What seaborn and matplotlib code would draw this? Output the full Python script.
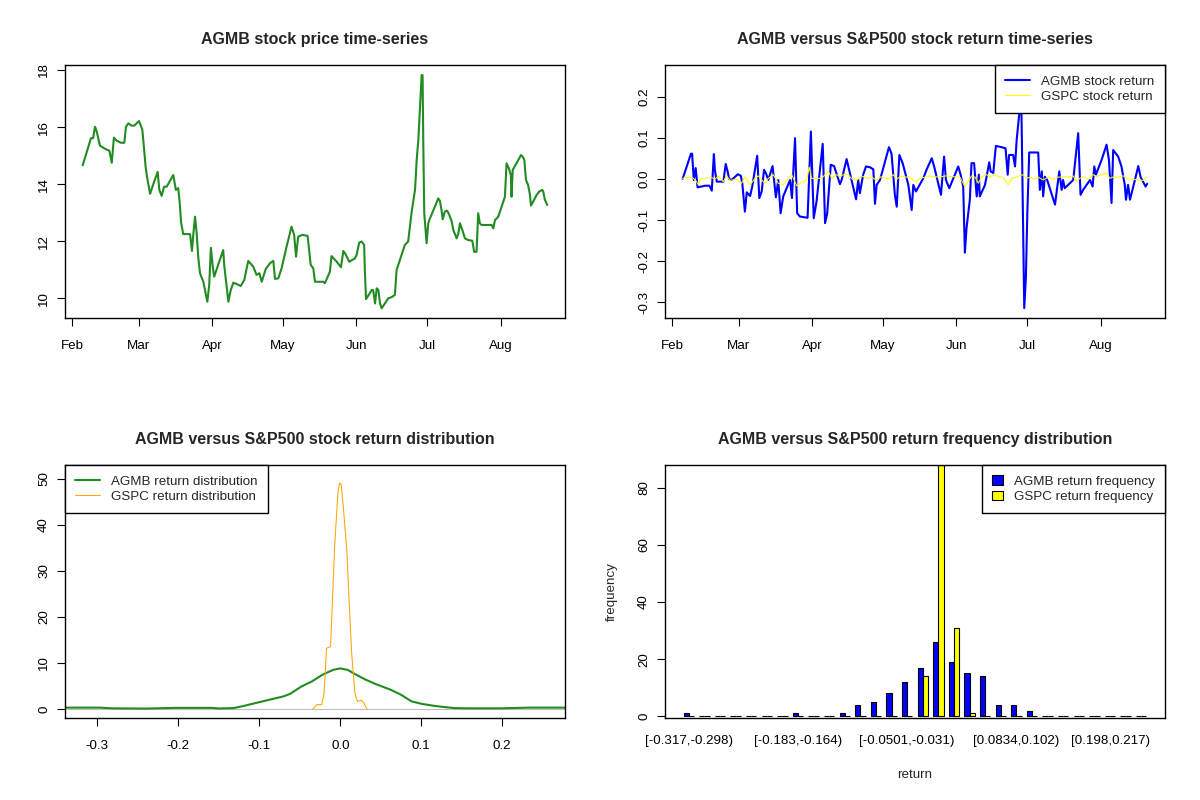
import pandas as pd
import matplotlib
matplotlib.use('Agg')
import matplotlib.pyplot as plt
import matplotlib.dates as mdates
import seaborn as sns

# AGMB closing price, (days since 2021-02-01, price)
price_pts = [
    (4.3, 14.66), (7.8, 15.61), (8.7, 15.61), (9.5, 16.01), (10.2, 15.86), (11.6, 15.35), (13.7, 15.24), (15.6, 15.17), (16.6, 14.75), (17.5, 15.63),
    (18.7, 15.52), (20.5, 15.45), (21.9, 15.45), (22.6, 16.01), (23.6, 16.13), (25.0, 16.05), (26.1, 16.05), (28.1, 16.21), (29.5, 15.92), (30.2, 15.29),
    (30.9, 14.61), (31.6, 14.21), (32.8, 13.66), (34.2, 14.01), (36.0, 14.43), (36.7, 13.80), (37.7, 13.59), (38.7, 13.91), (39.8, 13.91), (42.6, 14.32),
    (43.7, 13.80), (44.7, 13.86), (45.4, 13.27), (45.9, 12.66), (46.8, 12.25), (49.7, 12.25), (50.5, 11.66), (51.1, 12.27), (51.8, 12.86), (52.5, 12.27),
    (53.2, 11.40), (53.9, 10.88), (55.3, 10.58), (57.0, 9.88), (57.8, 10.47), (58.5, 11.77), (59.3, 11.11), (59.9, 10.76), (63.7, 11.69), (64.2, 11.11),
    (65.9, 9.88), (66.9, 10.29), (68.0, 10.55), (69.4, 10.50), (71.1, 10.43), (72.6, 10.64), (74.3, 11.31), (76.4, 11.11), (77.8, 10.82), (79.0, 10.88),
    (80.0, 10.58), (81.7, 11.03), (83.5, 11.23), (84.9, 11.31), (85.6, 10.68), (87.0, 10.70), (88.4, 11.05), (90.5, 11.81), (92.6, 12.51), (93.7, 12.22),
    (94.5, 11.46), (95.4, 12.16), (97.1, 12.22), (99.4, 12.19), (100.7, 11.17), (101.8, 11.05), (102.5, 10.58), (106.0, 10.58), (106.7, 10.53), (108.8, 10.93),
    (109.5, 11.48), (111.7, 11.28), (113.5, 11.09), (114.5, 11.66), (115.6, 11.52), (117.0, 11.28), (119.4, 11.40), (120.1, 11.52), (121.2, 11.95), (122.2, 11.99),
    (123.3, 11.87), (123.6, 10.93), (124.1, 9.97), (126.5, 10.29), (127.1, 10.29), (127.9, 9.82), (128.6, 10.35), (129.3, 10.29), (130.0, 9.82), (130.7, 9.65),
    (133.5, 10.00), (134.9, 10.04), (136.3, 10.12), (137.0, 10.99), (138.4, 11.34), (140.5, 11.87), (141.9, 11.99), (143.4, 13.04), (144.8, 13.80), (145.5, 14.85),
    (146.2, 15.55), (146.9, 16.71), (147.3, 17.30), (147.6, 17.82), (148.0, 17.82), (148.3, 15.37), (148.7, 12.98), (149.7, 11.93), (150.4, 12.63), (151.1, 12.80),
    (153.2, 13.21), (154.6, 13.50), (155.3, 13.42), (156.0, 13.09), (156.5, 12.77), (157.4, 13.04), (158.4, 13.07), (159.3, 12.92), (160.3, 12.69), (161.0, 12.39),
    (162.4, 12.10), (163.1, 12.27), (163.8, 12.63), (164.9, 12.37), (165.9, 12.10), (167.3, 12.04), (169.0, 12.02), (169.8, 11.63), (170.8, 11.63), (171.5, 12.98),
    (172.2, 12.63), (172.9, 12.57), (177.2, 12.57), (177.9, 12.45), (178.6, 12.74), (180.0, 12.86), (181.4, 13.21), (182.8, 13.56), (183.5, 14.73), (184.5, 14.55),
    (185.3, 14.32), (185.6, 13.56), (186.1, 14.50), (187.7, 14.73), (189.6, 15.02), (190.3, 14.96), (191.0, 14.85), (191.7, 14.15), (192.6, 13.97), (193.4, 13.62),
    (193.8, 13.25), (194.5, 13.35), (196.2, 13.62), (197.3, 13.74), (198.6, 13.80), (199.0, 13.74), (199.7, 13.45), (200.7, 13.27),
]

# daily returns, (days since 2021-02-01, return)
agmb_ret_pts = [
    (4.3, 0.001), (7.8, 0.062), (8.3, 0.062), (9.0, -0.002), (9.8, 0.027), (10.6, -0.020), (13.7, -0.016), (15.6, -0.016), (16.6, -0.028), (17.5, 0.061),
    (17.9, 0.023), (18.7, -0.006), (21.5, -0.006), (22.5, 0.037), (23.3, 0.019), (23.9, 0.001), (25.0, -0.002), (27.6, 0.012), (28.9, 0.008), (29.5, -0.010),
    (30.6, -0.079), (31.4, -0.032), (32.8, -0.041), (33.7, -0.018), (35.8, 0.057), (36.7, -0.046), (37.7, -0.030), (38.7, 0.023), (39.6, 0.013), (40.5, -0.002),
    (42.3, 0.032), (43.7, -0.044), (44.7, -0.002), (45.7, -0.083), (46.8, -0.042), (49.7, -0.002), (50.5, -0.046), (51.8, 0.100), (52.7, -0.083), (53.9, -0.091),
    (57.1, -0.094), (57.7, -0.002), (58.5, 0.116), (59.7, -0.095), (60.9, -0.054), (63.5, 0.086), (64.5, -0.107), (65.4, -0.083), (66.9, 0.035), (68.3, 0.032),
    (70.8, -0.012), (71.5, -0.002), (73.6, 0.049), (74.3, 0.032), (77.6, -0.049), (78.5, -0.002), (79.2, -0.034), (80.6, 0.011), (81.8, 0.031), (83.5, 0.029),
    (84.9, 0.024), (85.6, -0.060), (86.3, -0.014), (87.7, -0.002), (89.1, 0.027), (91.5, 0.078), (92.6, 0.062), (94.0, -0.038), (94.8, -0.067), (95.9, 0.059),
    (97.3, 0.039), (99.7, -0.014), (101.1, -0.075), (101.8, -0.014), (102.9, -0.030), (106.0, 0.002), (107.4, 0.023), (109.6, 0.051), (110.6, 0.031),
    (113.5, -0.038), (114.8, 0.055), (115.6, -0.002), (117.0, -0.022), (120.8, 0.031), (121.8, 0.011), (122.9, -0.018), (123.6, -0.179), (124.3, -0.119), (125.7, -0.050),
    (126.4, 0.039), (127.5, 0.039), (128.6, -0.042), (129.5, 0.011), (129.9, -0.042), (132.1, -0.014), (133.9, 0.041), (134.5, 0.019), (135.6, 0.015), (136.7, 0.081),
    (139.1, 0.078), (140.8, 0.075), (141.7, 0.011), (142.3, 0.059), (144.0, 0.059), (144.8, 0.031), (145.5, 0.096), (146.2, 0.136), (146.9, 0.177), (147.3, 0.255),
    (148.7, -0.314), (149.4, -0.237), (150.0, -0.083), (150.8, 0.065), (154.6, 0.065), (155.3, -0.026), (156.1, 0.019), (156.7, -0.042), (157.4, 0.006), (158.4, -0.002),
    (161.7, -0.062), (163.5, 0.019), (164.5, -0.026), (165.1, -0.002), (165.8, -0.022), (169.4, -0.002), (171.5, 0.112), (172.5, -0.038), (173.6, -0.026), (176.5, -0.002),
    (177.6, -0.018), (178.3, 0.031), (179.0, 0.011), (181.4, 0.047), (183.5, 0.084), (184.5, 0.047), (185.6, -0.058), (186.3, 0.071), (188.4, 0.055), (189.8, 0.031),
    (191.2, -0.014), (191.7, -0.050), (192.6, -0.014), (193.4, -0.050), (194.1, -0.034), (195.1, -0.011), (196.9, 0.032), (197.9, 0.005), (200.0, -0.018), (200.7, -0.011),
]

gspc_ret_pts = [
    (4.3, 0.001), (5.3, 0.005), (7.4, 0.005), (8.8, 0.002), (10.2, -0.006), (10.9, -0.014), (11.9, 0.001), (16.6, 0.004), (17.9, 0.000), (19.4, 0.008),
    (21.5, -0.006), (22.9, 0.008), (24.3, -0.003), (27.1, 0.000), (29.2, -0.010), (30.6, 0.006), (32.8, -0.014), (34.9, 0.002), (36.3, 0.008), (37.7, -0.002),
    (39.1, -0.010), (40.5, 0.002), (42.6, 0.011), (44.7, -0.010), (46.8, -0.014), (49.0, 0.002), (50.4, 0.011), (52.5, -0.016), (54.6, -0.008), (56.7, -0.002),
    (57.8, 0.029), (58.8, 0.002), (63.0, 0.002), (65.2, 0.015), (65.9, 0.019), (67.3, 0.002), (69.4, 0.011), (70.8, 0.006), (72.2, 0.011), (74.3, 0.011),
    (75.7, 0.001), (77.8, -0.003), (80.0, 0.008), (82.1, 0.002), (84.2, 0.005), (86.3, -0.003), (88.1, 0.006), (91.2, 0.000), (93.3, 0.011), (94.7, 0.000),
    (96.8, 0.008), (98.9, 0.005), (100.4, 0.006), (101.8, -0.003), (103.2, -0.006), (104.6, 0.002), (106.7, 0.005), (108.1, 0.008), (111.0, 0.006), (113.1, 0.005),
    (115.2, 0.008), (118.7, 0.006), (121.5, 0.005), (123.6, -0.018), (125.0, -0.006), (126.4, 0.008), (127.9, 0.005), (129.3, -0.010), (130.7, 0.006), (132.8, 0.011),
    (134.2, 0.005), (136.3, 0.011), (137.7, 0.006), (139.8, 0.005), (141.9, -0.014), (143.4, 0.002), (145.5, 0.005), (148.3, 0.011), (149.7, 0.002), (151.1, 0.005),
    (152.5, 0.000), (154.6, 0.005), (156.7, -0.002), (158.8, 0.005), (160.9, 0.000), (163.1, 0.005), (165.2, 0.006), (167.3, 0.005), (169.4, 0.008), (170.8, -0.006),
    (172.2, 0.002), (173.6, 0.006), (175.8, 0.000), (177.9, 0.011), (179.3, 0.006), (181.4, 0.011), (183.5, 0.015), (184.9, 0.002), (186.6, 0.006), (188.4, 0.005),
    (190.5, 0.008), (192.7, 0.000), (194.8, 0.000), (196.9, -0.002), (199.0, -0.003), (200.4, 0.005),
]

# return density curves, (return, density)
agmb_dens_pts = [
    (-0.345, 0.3), (-0.297, 0.3), (-0.282, 0.15), (-0.240, 0.1), (-0.203, 0.25), (-0.159, 0.25), (-0.150, 0.12), (-0.132, 0.2),
    (-0.121, 0.6), (-0.101, 1.45), (-0.088, 2.0), (-0.070, 2.75), (-0.062, 3.3), (-0.048, 4.9), (-0.035, 6.0), (-0.022, 7.45),
    (-0.009, 8.5), (0.0, 8.83), (0.009, 8.5), (0.018, 7.6), (0.031, 6.4), (0.044, 5.4), (0.062, 4.2), (0.075, 3.1),
    (0.088, 1.66), (0.101, 1.1), (0.115, 0.72), (0.128, 0.43), (0.141, 0.2), (0.159, 0.15), (0.198, 0.15), (0.233, 0.3), (0.285, 0.3),
]
gspc_dens_pts = [
    (-0.034, 0.0), (-0.029, 0.94), (-0.023, 0.94), (-0.020, 3.5), (-0.017, 13.2), (-0.012, 13.6), (-0.010, 22.3), (-0.007, 35.3),
    (-0.003, 46.9), (-0.001, 49.1), (0.001, 48.9), (0.004, 43.3), (0.008, 34.6), (0.011, 23.0), (0.014, 12.2), (0.018, 3.5),
    (0.021, 1.66), (0.026, 1.9), (0.029, 1.3), (0.033, 0.0),
]

# return frequency per bin (30 bins of width ~0.019)
agmb_counts = [1, 0, 0, 0, 0, 0, 0, 1, 0, 0, 1, 4, 5, 8, 12, 17, 26, 19, 15, 14, 4, 4, 2, 0, 0, 0, 0, 0, 0, 0]
gspc_counts = [0, 0, 0, 0, 0, 0, 0, 0, 0, 0, 0, 0, 0, 0, 0, 14, 88, 31, 1, 0, 0, 0, 0, 0, 0, 0, 0, 0, 0, 0]
bin_tick_pos = [0, 7, 14, 21, 27]
bin_tick_labels = ['[-0.317,-0.298)', '[-0.183,-0.164)', '[-0.0501,-0.031)', '[0.0834,0.102)', '[0.198,0.217)']

START = pd.Timestamp('2021-02-01')


def to_frame(pts, as_date=False):
    df = pd.DataFrame(pts, columns=['x', 'y'])
    if as_date:
        df['x'] = START + pd.to_timedelta(df['x'], unit='D')
    return df


sns.set_theme(style='white')
plt.rcParams['font.family'] = ['Liberation Sans', 'DejaVu Sans']

W, H = 1200, 800
fig = plt.figure(figsize=(12, 8), dpi=100)


def add_box(left, top):
    return fig.add_axes([left / W, 1 - (top + 253) / H, 500 / W, 253 / H])


ax1 = add_box(65, 65)
ax2 = add_box(665, 65)
ax3 = add_box(65, 465)
ax4 = add_box(665, 465)

TICK = 9.6


def r_style(ax, title):
    for s in ax.spines.values():
        s.set_visible(True)
        s.set_color('black')
        s.set_linewidth(1.0)
    ax.tick_params(axis='both', direction='out', length=5.8, width=0.8, colors='black',
                   labelsize=TICK, bottom=True, left=True, top=False, right=False)
    ax.tick_params(axis='x', pad=10)
    ax.tick_params(axis='y', pad=5, labelrotation=90)
    plt.setp(ax.get_yticklabels(), va='center')
    ax.set_xlabel('')
    ax.set_ylabel('')
    ax.grid(False)
    ax.set_title(title, fontsize=11.5, fontweight='bold', pad=15)


def r_legend(ax, loc, square=False):
    handles, labels = ax.get_legend_handles_labels()
    leg = ax.legend(handles, labels, loc=loc, borderaxespad=0, frameon=True, fancybox=False,
                    edgecolor='black', framealpha=1, fontsize=TICK, borderpad=0.77, labelspacing=0.22,
                    handlelength=0.8 if square else 1.85, handleheight=0.7, handletextpad=0.85)
    leg.get_frame().set_linewidth(1.0)


date_lim = (START + pd.Timedelta(days=-3.17), START + pd.Timedelta(days=208.2))

# 1. price time-series
sns.lineplot(data=to_frame(price_pts, True), x='x', y='y', color='forestgreen', linewidth=1.5,
             estimator=None, sort=False, ax=ax1)
ax1.set_xlim(date_lim)
ax1.set_ylim(9.31, 18.175)
ax1.set_yticks([10, 12, 14, 16, 18])
ax1.xaxis.set_major_locator(mdates.MonthLocator())
ax1.xaxis.set_major_formatter(mdates.DateFormatter('%b'))
r_style(ax1, 'AGMB stock price time-series')

# 2. returns time-series
sns.lineplot(data=to_frame(agmb_ret_pts, True), x='x', y='y', color='blue', linewidth=1.5,
             estimator=None, sort=False, ax=ax2, label='AGMB stock return')
sns.lineplot(data=to_frame(gspc_ret_pts, True), x='x', y='y', color='yellow', linewidth=0.75,
             estimator=None, sort=False, ax=ax2, label='GSPC stock return')
ax2.set_xlim(date_lim)
ax2.set_ylim(-0.338, 0.278)
ax2.set_yticks([-0.3, -0.2, -0.1, 0.0, 0.1, 0.2])
ax2.set_yticklabels(['-0.3', '-0.2', '-0.1', '0.0', '0.1', '0.2'])
ax2.xaxis.set_major_locator(mdates.MonthLocator())
ax2.xaxis.set_major_formatter(mdates.DateFormatter('%b'))
r_style(ax2, 'AGMB versus S&P500 stock return time-series')
r_legend(ax2, 'upper right')

# 3. return density
ax3.axhline(0, color='#BEBEBE', linewidth=0.8, zorder=1)
sns.lineplot(data=to_frame(agmb_dens_pts), x='x', y='y', color='forestgreen', linewidth=1.5,
             estimator=None, sort=False, ax=ax3, label='AGMB return distribution')
sns.lineplot(data=to_frame(gspc_dens_pts), x='x', y='y', color='orange', linewidth=0.75,
             estimator=None, sort=False, ax=ax3, label='GSPC return distribution')
ax3.set_xlim(-0.340, 0.2775)
ax3.set_ylim(-1.95, 53.0)
ax3.set_xticks([-0.3, -0.2, -0.1, 0.0, 0.1, 0.2])
ax3.set_xticklabels(['-0.3', '-0.2', '-0.1', '0.0', '0.1', '0.2'])
ax3.set_yticks([0, 10, 20, 30, 40, 50])
r_style(ax3, 'AGMB versus S&P500 stock return distribution')
r_legend(ax3, 'upper left')

# 4. return frequency bars
n_bins = len(agmb_counts)
freq = pd.DataFrame({
    'bin': list(range(n_bins)) * 2,
    'series': ['AGMB return frequency'] * n_bins + ['GSPC return frequency'] * n_bins,
    'count': agmb_counts + gspc_counts,
})
sns.barplot(data=freq, x='bin', y='count', hue='series', palette=['blue', 'yellow'], saturation=1,
            width=2 / 3, edgecolor='black', linewidth=0.8, errorbar=None, ax=ax4)
ax4.set_xlim(-1.52, n_bins + 0.52)
ax4.set_ylim(-0.6, 88)
ax4.set_yticks([0, 20, 40, 60, 80])
ax4.set_xticks(bin_tick_pos)
ax4.set_xticklabels(bin_tick_labels)
r_style(ax4, 'AGMB versus S&P500 return frequency distribution')
ax4.tick_params(axis='x', length=0, pad=12)
ax4.set_xlabel('return', fontsize=TICK, va='center')
ax4.xaxis.set_label_coords(0.5, -0.225)
ax4.set_ylabel('frequency', fontsize=TICK, va='center')
ax4.yaxis.set_label_coords(-0.106, 0.5)
r_legend(ax4, 'upper right', square=True)

fig.savefig('out.png', dpi=100, facecolor='white')
